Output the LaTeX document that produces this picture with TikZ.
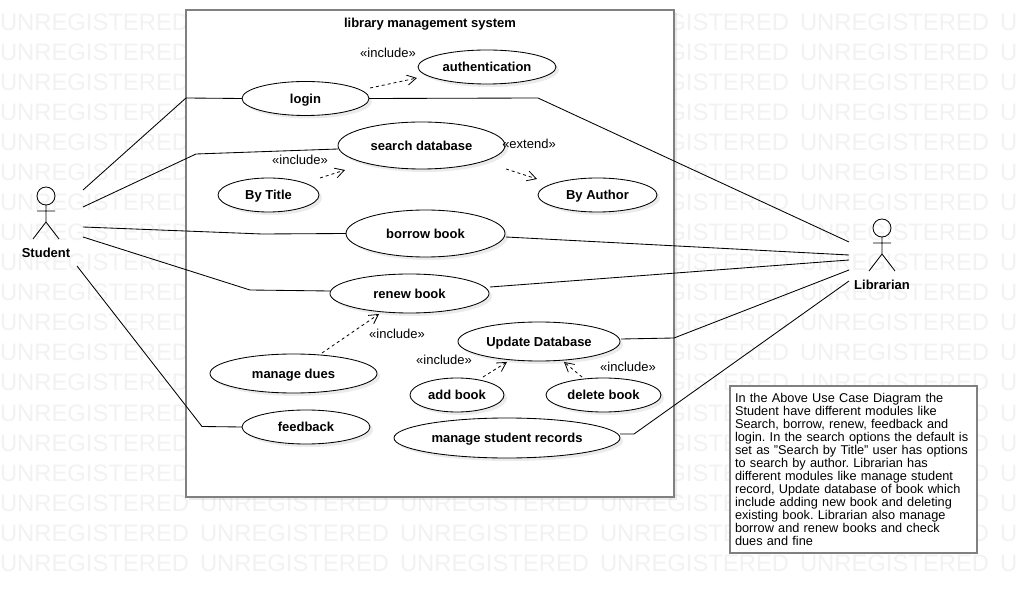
\documentclass[tikz,border=0pt]{standalone}
\usepackage{fontspec}
\setmainfont{Liberation Sans}
\usetikzlibrary{shapes.geometric,shadows,arrows.meta}
\definecolor{wmgray}{HTML}{F2F2F2}
\definecolor{framegray}{HTML}{808080}
\newcommand{\smallfont}{\fontsize{13}{13}\selectfont}
\tikzset{
  softshadow/.style={drop shadow={shadow xshift=3pt,shadow yshift=-3pt,fill=black,opacity=.08}},
  usecase/.style={ellipse,draw=black,line width=.85pt,fill=white,inner sep=0pt,outer sep=0pt,softshadow,font=\smallfont\bfseries,text height=10pt,text depth=.6pt},
  label/.style={inner sep=0pt,outer sep=0pt,font=\smallfont},
  boldlabel/.style={inner sep=0pt,outer sep=0pt,font=\smallfont\bfseries},
  watermark/.style={inner sep=0pt,outer sep=0pt,anchor=base west,text=wmgray,font=\fontsize{23.8}{24}\selectfont},
  assoc/.style={draw=black,line width=.85pt},
  dep/.style={draw=black,line width=.8pt,dash pattern=on 3pt off 3pt,-{Straight Barb[length=9pt,width=10pt]}},
  actor/.pic={
    \node[circle,draw=black,line width=.85pt,minimum size=18pt,inner sep=0pt,outer sep=0pt] (head) at (0,0) {};
    \draw[black,line width=.85pt] (head.south) -- (0,26) (-9,15) -- (9,15) (-13,43) -- (0,26) -- (13,43);
  }
}
\begin{document}
\begin{tikzpicture}[x=1pt,y=-1pt]
\useasboundingbox (0,0) rectangle (1017,593);
\fill[white] (0,0) rectangle (1017,593);
% watermark
\foreach \j in {0,...,18} {
  \foreach \i in {0,...,5} {
    \node[watermark,name=wm-\i-\j] at ({\i*200},{31+\j*30}) {UNREGISTERED};
  }
}
% system boundary
\node[draw=framegray,line width=2pt,fill=white,softshadow,minimum width=488pt,minimum height=487pt,inner sep=0pt,outer sep=0pt] (system) at (430,253.5) {};
\node[boldlabel] (systemtitle) at (430,24) {library management system};
% use cases
\node[usecase,minimum width=138pt,minimum height=34pt] (authentication) at (487,67) {authentication};
\node[usecase,minimum width=127pt,minimum height=34pt] (login) at (305.5,98.5) {login};
\node[usecase,minimum width=167pt,minimum height=47pt] (search) at (421.5,145.5) {search database};
\node[usecase,minimum width=101pt,minimum height=34pt] (bytitle) at (268.5,195) {By Title};
\node[usecase,minimum width=119pt,minimum height=34pt] (byauthor) at (597.5,195) {By Author};
\node[usecase,minimum width=159pt,minimum height=47pt] (borrow) at (425.5,233.5) {borrow book};
\node[usecase,minimum width=159pt,minimum height=39pt] (renew) at (409.5,293.5) {renew book};
\node[usecase,minimum width=162pt,minimum height=39pt] (update) at (539,341.5) {Update Database};
\node[usecase,minimum width=167pt,minimum height=39pt] (dues) at (293.5,373.5) {manage dues};
\node[usecase,minimum width=94pt,minimum height=34pt] (addbook) at (457,395) {add book};
\node[usecase,minimum width=115pt,minimum height=34pt] (deletebook) at (603.5,395) {delete book};
\node[usecase,minimum width=128pt,minimum height=34pt] (feedback) at (306,427) {feedback};
\node[usecase,minimum width=226pt,minimum height=40pt] (records) at (507,438) {manage student records};
% actors
\pic (student) at (46,196) {actor};
\node[boldlabel] (studentlabel) at (46,252.5) {Student};
\pic (librarian) at (882,228) {actor};
\node[boldlabel] (librarianlabel) at (882,284.5) {Librarian};
% free connector ends beside the actors
\coordinate (s1) at (83,190);
\coordinate (s2) at (83,207);
\coordinate (s3) at (83,227);
\coordinate (s4) at (83,237);
\coordinate (s5) at (77,266);
\coordinate (l1) at (849,242);
\coordinate (l2) at (849,255);
\coordinate (l3) at (849,260);
\coordinate (l4) at (849,270);
\coordinate (l5) at (849,281);
% student associations
\draw[assoc] (s1) -- (186,98) -- (login.west);
\draw[assoc] (s2) -- (196,154) -- ([shift={(0,3.5)}]search.west);
\draw[assoc] (s3) -- (262,234) -- (borrow.west);
\draw[assoc] (s4) -- (250,290) -- ([shift={(0,-2.5)}]renew.west);
\draw[assoc] (s5) -- (202,426.5) -- (feedback.west);
% librarian associations
\draw[assoc] (login.east) -- (538,98) -- (l1);
\draw[assoc] ([shift={(1,3.5)}]borrow.east) -- (l2);
\draw[assoc] ([shift={(1,-6.5)}]renew.east) -- (l3);
\draw[assoc] ([shift={(1,-2.5)}]update.east) -- (674,338) -- (l4);
\draw[assoc] ([shift={(0,-4)}]records.east) -- (634,434) -- (l5);
% dependencies
\draw[dep] ([shift={(1,-10.5)}]login.east) -- ([shift={(-1,11)}]authentication.west);
\draw[dep] ([shift={(1,-17)}]bytitle.east) -- ([shift={(-76.5,1)}]search.south);
\draw[dep] ([shift={(1,23.5)}]search.east) -- ([shift={(-1,-16)}]byauthor.west);
\draw[dep] ([shift={(28.5,-1)}]dues.north) -- ([shift={(-30.5,1)}]renew.south);
\draw[dep] ([shift={(26,-1)}]addbook.north) -- ([shift={(-32,1)}]update.south);
\draw[dep] ([shift={(-21.5,-1)}]deletebook.north) -- ([shift={(25,1)}]update.south);
% stereotype labels
\node[label] (inc1) at (388,53) {«include»};
\node[label] (inc2) at (300,160) {«include»};
\node[label] (ext1) at (529,144) {«extend»};
\node[label] (inc3) at (397,334) {«include»};
\node[label] (inc4) at (444,360) {«include»};
\node[label] (inc5) at (628,367) {«include»};
% note
\node[draw=framegray,line width=2pt,fill=white,minimum height=167pt,inner xsep=5pt,inner ysep=0pt,outer sep=0pt,text width=237pt,align=left,font={\fontsize{12.75}{13}\selectfont\frenchspacing\hyphenpenalty=10000 }] (note) at (853.5,469.5) {In the Above Use Case Diagram the\\
Student have different modules like\\
Search, borrow, renew, feedback and\\
login. In the search options the default is\\
set as "Search by Title" user has options\\
to search by author. Librarian has\\
different modules like manage student\\
record, Update database of book which\\
include adding new book and deleting\\
existing book. Librarian also manage\\
borrow and renew books and check\\
dues and fine};
\end{tikzpicture}
\end{document}
